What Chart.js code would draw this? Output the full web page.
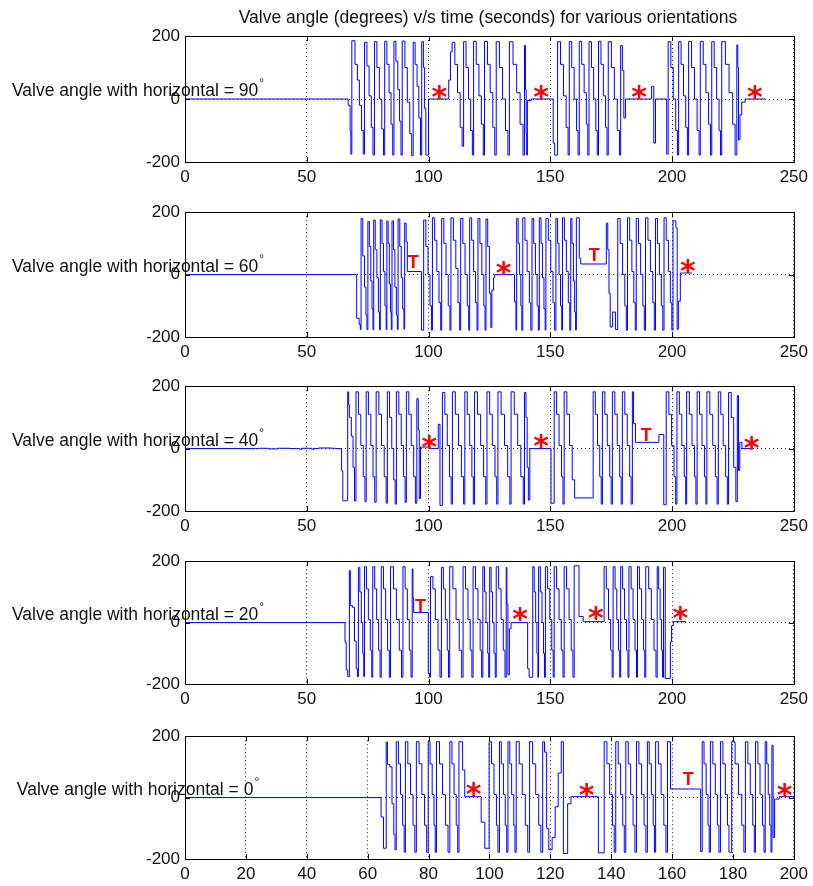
<!DOCTYPE html>
<html lang="en">
<head>
<meta charset="UTF-8">
<title>Valve angle v/s time</title>
<script src="https://cdn.jsdelivr.net/npm/chart.js"></script>
<style>
  body { margin: 0; background: #fff; }
  #figure { position: relative; width: 813px; height: 886px; }
  #figure canvas { position: absolute; left: 0; }
</style>
</head>
<body>
<div id="figure"></div>
<script>
// [time (s), angle (deg)] — each angle is held until the next time
const angle90 = [
  [0, 0], [66, 0], [67, -20], [67.8, -100], [68.1, -175],
  [68.5, 185], [69.8, 110], [70.8, 60], [71.6, -20], [72.5, -100], [73.2, -175],
  [73.7, 180], [74.7, 105], [75.6, 10], [76.5, -90], [77.2, -178],
  [77.8, 182], [78.8, 100], [79.8, 0], [80.8, -95], [81.5, -178],
  [82.0, 183], [82.9, 110], [83.8, 20], [84.6, -80], [85.3, -178],
  [85.8, 183], [86.6, 120], [87.4, 30], [88.1, -70], [88.7, -178],
  [89.2, 184], [90.3, 100], [91.3, -10], [92.3, -110], [93.1, -180],
  [93.7, 180], [94.5, 110], [95.3, 40], [96.0, -60], [96.7, -178],
  [97.2, 182], [97.9, 100], [98.4, -30], [98.9, -178], [100.0, 0],
  [108.3, 60], [109.0, 150],
  [109.7, 180], [110.8, 110], [111.9, 20], [113.0, -90], [113.8, -150],
  [114.4, 182], [115.4, 100], [116.4, 0], [117.3, -100], [118.0, -178],
  [118.5, 183], [119.6, 110], [120.7, 10], [121.7, -80], [122.5, -178],
  [123.0, 183], [124.2, 110], [125.3, 20], [126.4, -90], [127.2, -178],
  [127.8, 182], [129.1, 100], [130.4, 0], [131.6, -100], [132.6, -178],
  [133.2, 182], [134.7, 110], [136.2, 20], [137.6, -80], [138.8, -178],
  [139.4, 170], [139.8, 30], [140.1, -110], [140.3, -178], [140.6, -5], [142.2, 0],
  [151.2, -140], [151.8, -178],
  [153.0, 182], [154.2, 110], [155.4, 10], [156.5, -90], [157.3, -178],
  [157.8, 182], [158.8, 100], [159.8, 0], [160.8, -100], [161.4, -178],
  [161.9, 183], [162.9, 110], [163.9, 20], [164.8, -80], [165.4, -178],
  [165.9, 182], [166.9, 100], [167.8, 0], [168.7, -100], [169.3, -178],
  [169.8, 183], [170.8, 110], [171.8, 10], [172.7, -90], [173.3, -178],
  [173.8, 182], [175.1, 100], [176.3, 0], [177.5, -100], [178.4, -178],
  [178.9, 170], [179.6, 90], [180.2, -60], [180.9, 0],
  [191.6, 40], [192.5, -140], [193.2, 0], [197.8, -175],
  [198.4, 182], [199.5, 100], [200.5, 0], [201.5, -100], [202.2, -178],
  [202.7, 182], [203.7, 110], [204.7, 10], [205.6, -90], [206.3, -178],
  [206.8, 183], [208.0, 100], [209.2, 0], [210.3, -100], [211.1, -178],
  [211.6, 183], [212.8, 110], [213.9, 20], [215.0, -80], [215.8, -178],
  [216.3, 182], [217.3, 100], [218.3, 0], [219.3, -100], [219.9, -178],
  [220.4, 182], [221.9, 110], [223.4, 20], [224.9, -80], [225.9, -178],
  [226.6, 172], [227.0, 100], [227.3, -130], [227.9, -50], [228.6, -10], [230.0, 0], [238.2, 0]
];

const angle60 = [
  [0, 0], [70.2, 0], [70.5, -140], [71.5, -160], [72.0, -176],
  [72.3, 180], [73.0, 60], [73.7, -40], [74.3, -130], [74.7, -176],
  [75.1, 170], [75.7, 90], [76.3, -20], [76.8, -110], [77.2, -177],
  [77.5, 175], [78.1, 80], [78.8, -10], [79.4, -120], [79.9, -177],
  [80.2, 175], [80.9, 100], [81.5, 10], [82.1, -100], [82.6, -176],
  [82.9, 172], [83.4, 100], [83.9, -30], [84.4, -120], [84.7, -177],
  [85.0, 172], [85.6, 80], [86.2, -40], [86.8, -130], [87.2, -176],
  [87.5, 178], [88.2, 90], [88.8, -10], [89.4, -110], [89.9, -175],
  [90.2, 165], [90.8, 105], [91.3, 10], [97.1, -178],
  [98.0, 175], [98.9, 90], [99.8, 0], [100.6, -100], [101.2, -178],
  [101.6, 182], [102.5, 110], [103.4, 10], [104.3, -90], [105.0, -178],
  [105.4, 180], [106.3, 100], [107.2, 0], [108.1, -100], [108.8, -178],
  [109.2, 182], [110.2, 110], [111.2, 20], [112.1, -90], [112.8, -178],
  [113.2, 180], [114.1, 100], [115.0, 0], [115.9, -100], [116.5, -178],
  [116.9, 182], [117.7, 110], [118.5, 10], [119.3, -90], [119.9, -178],
  [120.3, 180], [121.1, 100], [121.9, 0], [122.7, -100], [123.2, -178],
  [123.6, 178], [124.3, 90], [125.0, -60], [125.6, -170], [126.0, -50], [126.7, -10], [127.2, 0],
  [135.3, -87], [135.9, -178],
  [136.2, 180], [136.8, 100], [137.4, 0], [137.9, -100], [138.3, -178],
  [138.7, 182], [139.6, 110], [140.5, 10], [141.4, -90], [142.0, -178],
  [142.5, 180], [143.2, 100], [143.9, 0], [144.6, -100], [145.1, -178],
  [145.5, 182], [146.2, 100], [146.8, -10], [147.4, -110], [147.9, -178],
  [148.2, 180], [149.2, 110], [150.2, 10], [151.1, -90], [151.8, -178],
  [152.3, 180], [153.0, 100], [153.6, 0], [154.2, -100], [154.7, -178],
  [155.0, 182], [155.8, 110], [156.6, 10], [157.4, -90], [158.0, -178],
  [158.4, 180], [158.9, 100], [159.5, -20], [160.0, -120], [160.4, -178],
  [160.7, 182], [161.9, 53], [162.5, 34],
  [173.0, 165], [173.6, 80], [174.1, -60], [174.6, -168], [175.6, -120], [176.8, -176],
  [177.7, 180], [178.7, 100], [179.7, 0], [180.6, -100], [181.2, -178],
  [181.7, 182], [182.6, 110], [183.5, 10], [184.3, -90], [184.9, -178],
  [185.3, 180], [186.2, 100], [187.1, 0], [188.0, -100], [188.6, -178],
  [189.1, 182], [190.1, 110], [191.1, 10], [192.1, -90], [192.7, -178],
  [193.2, 180], [194.0, 100], [194.8, 0], [195.6, -100], [196.2, -178],
  [196.7, 182], [197.6, 110], [198.5, 10], [199.3, -90], [199.9, -178],
  [200.4, 172], [201.6, 150], [202.1, -175], [202.6, -85], [203.4, 5], [208.2, 5]
];

const angle40 = [
  [0, 0], [29, 0], [30, 1], [34, -1], [38, 1], [43, 0], [47, -2], [48, 1], [52, -2], [53, 0], [55, 2], [60, 1], [62, 0],
  [64.3, -71], [64.8, -167],
  [66.8, 182], [67.2, 140], [67.5, 100], [68.3, 40], [69.0, -60], [69.6, -168],
  [70.2, 182], [71.2, 110], [72.2, 10], [73.2, -90], [73.9, -170],
  [74.4, 182], [75.3, 110], [76.3, 10], [77.2, -90], [77.9, -172],
  [78.5, 182], [79.6, 110], [80.7, 10], [81.8, -90], [82.6, -175],
  [83.1, 182], [84.0, 100], [84.9, 0], [85.7, -100], [86.3, -178],
  [86.8, 182], [87.8, 110], [88.8, 10], [89.7, -90], [90.4, -172],
  [90.9, 182], [91.9, 110], [92.9, 10], [93.9, -90], [94.6, -175],
  [95.2, 160], [95.8, 60], [96.2, -160], [96.7, 5], [100.2, 0], [104.0, 78], [104.7, -182],
  [105.7, 180], [106.7, 110], [107.7, 10], [108.6, -90], [109.3, -178],
  [109.8, 182], [111.0, 110], [112.3, 10], [113.5, -90], [114.4, -178],
  [114.9, 182], [115.9, 110], [116.9, 10], [117.8, -90], [118.4, -178],
  [118.9, 182], [120.1, 110], [121.4, 10], [122.6, -90], [123.5, -178],
  [124.0, 182], [125.1, 110], [126.2, 10], [127.3, -90], [128.0, -178],
  [128.5, 182], [129.8, 110], [131.2, 10], [132.5, -90], [133.4, -178],
  [133.9, 182], [135.2, 110], [136.6, 10], [137.9, -90], [138.9, -178],
  [139.4, 180], [140.0, 100], [140.5, -60], [141.0, -165], [141.6, 0], [150.3, -175],
  [151.6, 182], [152.6, 110], [153.6, 10], [154.6, -90], [155.2, -178],
  [155.7, 182], [156.8, 110], [157.9, 10], [159.0, -100], [160.0, -158],
  [167.6, 182], [168.5, 110], [169.4, 10], [170.3, -90], [170.9, -178],
  [171.4, 182], [172.4, 110], [173.4, 10], [174.4, -90], [175.0, -178],
  [175.5, 182], [176.5, 110], [177.5, 10], [178.5, -90], [179.1, -178],
  [179.6, 182], [180.6, 110], [181.6, 10], [182.6, -90], [183.2, -178],
  [183.7, 182], [184.2, 80], [185.0, 20], [194.6, 45], [196.6, -180],
  [197.6, 182], [198.7, 110], [199.8, 10], [200.8, -90], [201.5, -178],
  [202.0, 182], [203.0, 110], [204.0, 10], [205.0, -90], [205.6, -178],
  [206.0, 182], [207.1, 110], [208.2, 10], [209.2, -90], [209.8, -178],
  [210.3, 182], [211.3, 110], [212.3, 10], [213.3, -90], [213.9, -178],
  [214.3, 182], [215.5, 110], [216.7, 10], [217.8, -90], [218.5, -178],
  [219.0, 182], [220.0, 110], [221.0, 10], [222.0, -90], [222.7, -178],
  [223.2, 180], [224.3, 100], [225.3, -60], [226.2, -170], [226.8, 170], [227.3, -70], [227.8, 20], [228.7, 0], [232.2, 0]
];

const angle20 = [
  [0, 0], [65.4, 0], [65.7, -63], [66.2, -154], [66.8, -176],
  [67.5, 170], [67.9, 55], [68.8, 50], [69.6, -60], [70.3, -150], [70.8, -176],
  [71.2, 180], [71.8, 100], [72.4, 0], [73.0, -100], [73.4, -176],
  [73.7, 182], [74.5, 110], [75.3, 10], [76.1, -90], [76.7, -178],
  [77.1, 182], [77.9, 110], [78.7, 10], [79.5, -90], [80.1, -178],
  [80.6, 182], [81.5, 110], [82.4, 10], [83.2, -90], [83.9, -178],
  [84.4, 182], [85.6, 110], [86.8, 10], [88.0, -90], [88.9, -178],
  [89.5, 182], [90.4, 110], [91.3, 10], [92.1, -90], [92.8, -178],
  [93.3, 175], [93.6, 80], [93.9, 33], [99.9, -165], [100.4, -178],
  [100.8, 150], [101.8, 110], [102.8, 10], [103.9, -90], [104.7, -178],
  [105.3, 180], [106.1, 110], [106.9, 10], [107.7, -90], [108.2, -178],
  [108.7, 182], [110.0, 110], [111.3, 10], [112.6, -90], [113.6, -178],
  [114.2, 182], [115.2, 110], [116.2, 10], [117.1, -90], [117.8, -178],
  [118.3, 182], [119.3, 110], [120.3, 10], [121.2, -90], [121.8, -178],
  [122.3, 182], [123.0, 100], [123.6, 0], [124.3, -100], [124.7, -178],
  [125.1, 180], [125.7, 100], [126.3, 0], [126.9, -100], [127.4, -178],
  [127.8, 182], [128.8, 110], [129.8, 10], [130.7, -90], [131.4, -178],
  [131.9, 180], [132.2, 60], [132.6, -170], [133.2, -20], [133.9, 0],
  [140.7, -150], [141.3, -178],
  [142.8, 182], [143.4, 100], [144.0, 0], [144.5, -100], [144.9, -178],
  [145.2, 182], [145.9, 100], [146.6, 0], [147.2, -100], [147.6, -178],
  [148.0, 182], [148.9, 110], [149.8, 10], [150.6, -90], [151.2, -178],
  [151.6, 182], [152.6, 110], [153.6, 10], [154.5, -90], [155.2, -178],
  [155.7, 182], [156.7, 110], [157.7, 10], [158.6, -90], [159.3, -178],
  [159.8, 185], [161.8, 20], [163.5, 3],
  [172.1, 182], [173.0, 110], [173.9, 10], [174.8, -90], [175.4, -178],
  [175.8, 182], [176.6, 110], [177.3, 10], [178.0, -90], [178.5, -178],
  [178.9, 182], [179.7, 110], [180.5, 10], [181.3, -90], [181.9, -178],
  [182.3, 182], [183.2, 110], [184.0, 10], [184.8, -90], [185.4, -178],
  [185.8, 182], [186.6, 110], [187.5, 10], [188.3, -90], [188.8, -178],
  [189.2, 182], [190.4, 110], [191.5, 10], [192.6, -90], [193.4, -178],
  [193.9, 182], [194.5, 110], [195.1, 10], [195.7, -90], [196.1, -178],
  [196.5, 180], [197.2, -182], [199.3, -63], [199.8, -10], [200.5, 3], [205.7, 3]
];

const angle0 = [
  [0, 0], [64.1, 0], [64.4, -63], [65.2, -165],
  [66.1, 181], [66.5, 108], [67.3, 100], [68.0, -20], [68.6, -120], [69.0, -170],
  [69.4, 182], [70.1, 110], [70.8, 10], [71.5, -90], [72.0, -178],
  [72.4, 182], [73.2, 110], [74.1, 10], [74.9, -90], [75.5, -178],
  [76.0, 182], [76.9, 110], [77.8, 10], [78.7, -90], [79.4, -178],
  [79.9, 182], [80.5, 110], [81.2, 10], [81.8, -90], [82.2, -178],
  [82.6, 182], [83.6, 110], [84.6, 10], [85.6, -90], [86.4, -178],
  [87.0, 182], [87.7, 110], [88.4, 10], [89.1, -90], [89.6, -178],
  [90.0, 182], [91.2, 90], [91.9, 3], [97.3, -80], [98.5, -165],
  [99.9, 182], [100.7, 110], [101.5, 10], [102.3, -90], [102.8, -178],
  [103.3, 182], [103.9, 110], [104.6, 10], [105.2, -90], [105.7, -178],
  [106.1, 182], [106.7, 110], [107.3, 10], [108.0, -90], [108.4, -178],
  [108.8, 182], [109.8, 110], [110.8, 10], [111.8, -90], [112.6, -178],
  [113.2, 182], [114.2, 110], [115.2, 10], [116.2, -90], [116.9, -178],
  [117.5, 182], [118.1, 148], [118.8, -100], [119.5, -170], [120.6, -130], [121.6, -30], [122.6, 80],
  [123.6, 182], [124.3, -182], [125.7, -20], [126.8, 3], [135.8, -180],
  [137.7, 182], [138.6, 110], [139.5, 10], [140.4, -90], [141.0, -178],
  [141.5, 182], [142.3, 110], [143.1, 10], [143.8, -90], [144.3, -178],
  [144.8, 182], [145.6, 110], [146.4, 10], [147.2, -90], [147.8, -178],
  [148.3, 182], [149.1, 110], [150.0, 10], [150.8, -90], [151.4, -178],
  [151.9, 182], [152.5, 110], [153.2, 10], [153.8, -90], [154.2, -178],
  [154.6, 182], [155.5, 110], [156.4, 10], [157.3, -90], [158.0, -178],
  [158.5, 182], [159.5, 28], [169.4, -176],
  [169.9, 182], [170.5, 110], [171.2, 10], [171.8, -90], [172.2, -178],
  [172.6, 182], [173.4, 110], [174.2, 10], [174.9, -90], [175.4, -178],
  [175.9, 182], [176.7, 110], [177.5, 10], [178.2, -90], [178.7, -178],
  [179.6, 182], [180.7, 110], [181.8, 10], [182.9, -90], [183.6, -178],
  [184.1, 182], [184.9, 110], [185.7, 10], [186.5, -90], [187.0, -178],
  [187.4, 182], [188.2, 110], [188.9, 10], [189.7, -90], [190.2, -178],
  [190.6, 182], [191.1, 110], [191.6, 10], [192.1, -90], [192.5, -178],
  [192.8, 170], [193.2, -130], [193.7, -5], [195.2, 3], [200, 3]
];

// red markers placed over the idle stretches: [time, angle]
const stars90 = [[104.4, 27], [146.2, 27], [186.5, 27], [234.0, 27]];
const tees90 = [];
const stars60 = [[130.8, 28], [206.5, 33]];
const tees60 = [[93.7, 41], [168.0, 65]];
const stars40 = [[100.3, 27], [146.2, 30], [232.7, 25]];
const tees40 = [[189.4, 46]];
const stars20 = [[137.6, 34], [168.7, 37], [203.4, 37]];
const tees20 = [[96.7, 57]];
const stars0 = [[94.8, 33], [131.9, 30], [197.0, 30]];
const tees0 = [[165.3, 63]];

const orientations = [90, 60, 40, 20, 0];
const yTickValues = [-200, 0, 200];
const xTicksLong = [0, 50, 100, 150, 200, 250];
const xTicksShort = [0, 20, 40, 60, 80, 100, 120, 140, 160, 180, 200];
const figureTitle = 'Valve angle (degrees) v/s time (seconds) for various orientations';

const panels = [
  { data: angle90, stars: stars90, tees: tees90, xTicks: xTicksLong, top: 36, height: 126 },
  { data: angle60, stars: stars60, tees: tees60, xTicks: xTicksLong, top: 211, height: 126 },
  { data: angle40, stars: stars40, tees: tees40, xTicks: xTicksLong, top: 385, height: 126 },
  { data: angle20, stars: stars20, tees: tees20, xTicks: xTicksLong, top: 560, height: 124 },
  { data: angle0, stars: stars0, tees: tees0, xTicks: xTicksShort, top: 735, height: 124 }
];

const FONT = '"Liberation Sans", Arial, Helvetica, sans-serif';
const TEXT_COLOR = '#111';
const PAD_TOP = 14;
const AXIS_H = 28;

// box, inner tick marks, y label, red markers and the figure title
const decoPlugin = {
  id: 'deco',
  afterDraw(chart, args, opts) {
    const ctx = chart.ctx;
    const a = chart.chartArea;
    const xs = chart.scales.x;
    const ys = chart.scales.y;
    ctx.save();

    // axes box
    ctx.strokeStyle = '#000';
    ctx.lineWidth = 1;
    ctx.strokeRect(Math.round(a.left) + 0.5, Math.round(a.top) + 0.5,
      Math.round(a.right - a.left), Math.round(a.bottom - a.top));

    // short ticks pointing inward
    ctx.beginPath();
    opts.xTicks.forEach(v => {
      const px = Math.round(xs.getPixelForValue(v)) + 0.5;
      ctx.moveTo(px, a.bottom); ctx.lineTo(px, a.bottom - 5);
      ctx.moveTo(px, a.top); ctx.lineTo(px, a.top + 5);
    });
    yTickValues.forEach(v => {
      const py = Math.round(ys.getPixelForValue(v)) + 0.5;
      ctx.moveTo(a.left, py); ctx.lineTo(a.left + 5, py);
      ctx.moveTo(a.right, py); ctx.lineTo(a.right - 5, py);
    });
    ctx.stroke();

    // horizontal y label with superscript degree sign
    const label = 'Valve angle with horizontal = ' + opts.deg;
    ctx.fillStyle = TEXT_COLOR;
    ctx.font = '17.5px ' + FONT;
    const w = ctx.measureText(label).width;
    ctx.font = '12px ' + FONT;
    const wd = ctx.measureText('°').width;
    const x0 = 138 - (w + wd + 1) / 2;
    const base = ys.getPixelForValue(0) - 3;
    ctx.textAlign = 'left';
    ctx.textBaseline = 'alphabetic';
    ctx.font = '17.5px ' + FONT;
    ctx.fillText(label, x0, base);
    ctx.font = '12px ' + FONT;
    ctx.fillText('°', x0 + w + 1, base - 9);

    // red markers
    ctx.fillStyle = '#ff0000';
    ctx.textAlign = 'center';
    ctx.font = 'bold 30px "DejaVu Sans", sans-serif';
    opts.stars.forEach(([t, v]) => {
      ctx.fillText('*', xs.getPixelForValue(t), ys.getPixelForValue(v) + 17);
    });
    ctx.font = 'bold 18px ' + FONT;
    opts.tees.forEach(([t, v]) => {
      ctx.fillText('T', xs.getPixelForValue(t), ys.getPixelForValue(v) + 6.5);
    });

    if (opts.title) {
      ctx.fillStyle = TEXT_COLOR;
      ctx.font = '17.5px ' + FONT;
      ctx.fillText(opts.title, 488, a.top - 13);
    }
    ctx.restore();
  }
};

const figure = document.getElementById('figure');

panels.forEach((p, i) => {
  const padTop = i === 0 ? 36 : PAD_TOP;
  const cvs = document.createElement('canvas');
  const h = padTop + p.height + AXIS_H;
  cvs.width = 813;
  cvs.height = h;
  cvs.style.width = '813px';
  cvs.style.height = h + 'px';
  cvs.style.top = (p.top - padTop) + 'px';
  figure.appendChild(cvs);

  const xMax = p.xTicks[p.xTicks.length - 1];

  new Chart(cvs, {
    type: 'line',
    data: {
      datasets: [{
        data: p.data.map(([t, v]) => ({ x: t, y: v })),
        borderColor: '#0000ff',
        borderWidth: 1,
        pointRadius: 0,
        stepped: true,
        fill: false
      }]
    },
    options: {
      responsive: false,
      animation: false,
      devicePixelRatio: 1,
      layout: { padding: { top: padTop, right: 18, left: 0, bottom: 0 } },
      plugins: {
        legend: { display: false },
        tooltip: { enabled: false },
        deco: {
          deg: orientations[i],
          stars: p.stars,
          tees: p.tees,
          xTicks: p.xTicks,
          title: i === 0 ? figureTitle : null
        }
      },
      scales: {
        x: {
          type: 'linear',
          min: 0,
          max: xMax,
          afterBuildTicks: s => { s.ticks = p.xTicks.map(v => ({ value: v })); },
          afterFit: s => { s.height = AXIS_H; },
          grid: { color: 'rgba(0,0,0,0.85)', lineWidth: 1, drawTicks: false },
          border: { display: false, dash: [1, 3] },
          ticks: { color: TEXT_COLOR, font: { family: FONT, size: 17 }, padding: 5, maxRotation: 0 }
        },
        y: {
          min: -200,
          max: 200,
          afterBuildTicks: s => { s.ticks = yTickValues.map(v => ({ value: v })); },
          afterFit: s => { s.width = 185; },
          grid: { color: 'rgba(0,0,0,0.85)', lineWidth: 1, drawTicks: false },
          border: { display: false, dash: [1, 3] },
          ticks: { color: TEXT_COLOR, font: { family: FONT, size: 17 }, padding: 5 }
        }
      }
    },
    plugins: [decoPlugin]
  });
});
</script>
</body>
</html>
